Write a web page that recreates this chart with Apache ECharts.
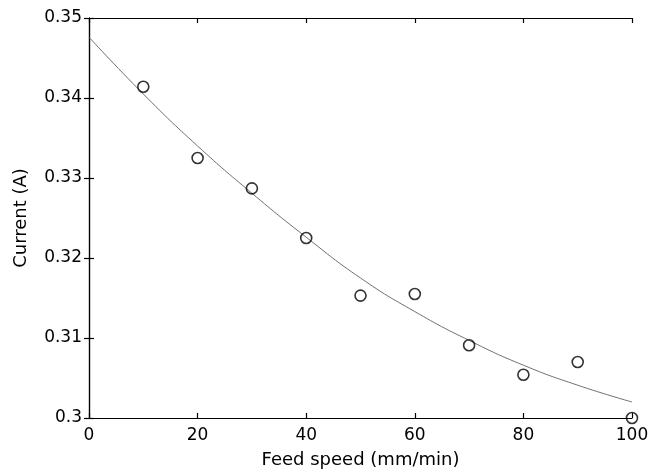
<!DOCTYPE html>
<html>
<head>
<meta charset="utf-8">
<script src="https://cdn.jsdelivr.net/npm/echarts@6/dist/echarts.min.js"></script>
<style>
html,body{margin:0;padding:0;background:#fff;}
#c{width:663px;height:470px;}
</style>
</head>
<body>
<div id="c"></div>
<script>
// Measured data points
const feedSpeed = [10, 20, 30, 40, 50, 60, 70, 80, 90, 100];
const currentMeasured = [0.3414, 0.3325, 0.3287, 0.3225, 0.3153, 0.3155, 0.3091, 0.3054, 0.3070, 0.3000];
// Fitted curve
const fitSpeed = [0, 10, 20, 30, 40, 50, 60, 70, 80, 90, 100];
const fitCurrent = [0.3476, 0.3405, 0.3340, 0.3281, 0.3226, 0.3175, 0.3133, 0.3097, 0.3066, 0.3041, 0.3020];
const xTicks = [0, 20, 40, 60, 80, 100];
const yTicks = [0.3, 0.31, 0.32, 0.33, 0.34, 0.35];

const font = 'DejaVu Sans';
const chart = echarts.init(document.getElementById('c'));
const axisLine = {show: true, lineStyle: {color: '#000', width: 1.2}};
const axisTick = {show: true, inside: true, length: 5, lineStyle: {color: '#000', width: 1.2}};

chart.setOption({
  backgroundColor: '#fff',
  animation: false,
  grid: {left: 89, right: 31, top: 18, bottom: 52, containLabel: false, outerBoundsMode: 'none'},
  xAxis: [{
    type: 'value', min: 0, max: 100, interval: 20,
    name: 'Feed speed (mm/min)', nameLocation: 'middle', nameGap: 33,
    nameTextStyle: {fontFamily: font, fontSize: 18, color: '#000'},
    axisLine: axisLine, axisTick: axisTick, splitLine: {show: false},
    axisLabel: {fontFamily: font, fontSize: 17, color: '#000', margin: 9,
      formatter: v => String(v)}
  }, {
    type: 'value', min: 0, max: 100, interval: 20, position: 'top',
    axisLine: axisLine, axisTick: axisTick, splitLine: {show: false},
    axisLabel: {show: false}
  }],
  yAxis: [{
    type: 'value', min: 0.3, max: 0.35, interval: 0.01,
    name: 'Current (A)', nameLocation: 'middle', nameGap: 59,
    nameTextStyle: {fontFamily: font, fontSize: 18, color: '#000'},
    axisLine: axisLine, axisTick: axisTick, splitLine: {show: false},
    axisLabel: {fontFamily: font, fontSize: 17, color: '#000', margin: 7,
      formatter: v => {
        const r = Math.round(v * 100) / 100;
        return yTicks.some(t => Math.abs(t - r) < 1e-9) ? String(r) : '';
      }}
  }, {
    type: 'value', min: 0.3, max: 0.35, interval: 0.01, position: 'right',
    axisLine: axisLine, axisTick: axisTick, splitLine: {show: false},
    axisLabel: {show: false}
  }],
  series: [{
    type: 'line',
    data: fitSpeed.map((x, i) => [x, fitCurrent[i]]),
    smooth: true,
    showSymbol: false,
    lineStyle: {color: '#707070', width: 1},
    z: 2
  }, {
    type: 'scatter',
    data: feedSpeed.map((x, i) => [x, currentMeasured[i]]),
    symbol: 'circle',
    symbolSize: 11,
    clip: false,
    itemStyle: {color: 'rgba(255,255,255,0)', borderColor: '#000', borderWidth: 1.6},
    z: 3
  }]
});
</script>
</body>
</html>
